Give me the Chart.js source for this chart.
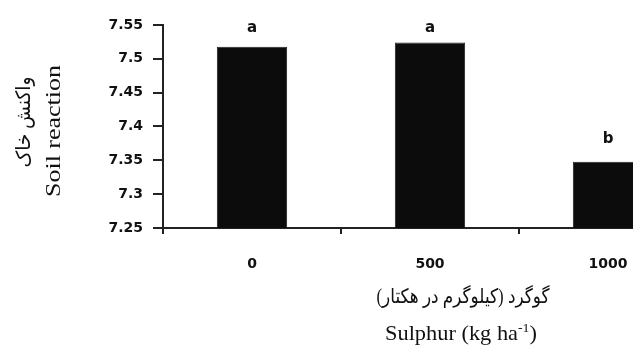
<!DOCTYPE html>
<html>
<head>
<meta charset="utf-8">
<script src="https://cdn.jsdelivr.net/npm/chart.js@4/dist/chart.umd.min.js"></script>
<style>
html,body{margin:0;padding:0;background:#fff;overflow:hidden;}
#wrap{position:relative;width:697px;height:349px;}
</style>
</head>
<body>
<div id="wrap"><canvas id="c" width="697" height="349"></canvas></div>
<script>
const categories = ['0', '500', '1000'];
const soilReaction = [7.518, 7.524, 7.348];
const groupLetters = ['a', 'a', 'b'];
const letterLevels = [7.540, 7.540, 7.376];
const yTicks = [7.25, 7.3, 7.35, 7.4, 7.45, 7.5, 7.55];
const yTitleLines = ['واکنش خاک', 'Soil reaction'];
const xTitleFa = 'گوگرد (کیلوگرم در هکتار)';
const xTitleEn = ['Sulphur (kg ha', '-1', ')'];

const tickFont = {family: 'DejaVu Sans', size: 14, weight: 'bold'};

function fitText(ctx, text, cx, cy, targetW) {
  const w = ctx.measureText(text).width;
  ctx.save();
  ctx.translate(cx, cy);
  ctx.scale(targetW / w, 1);
  ctx.fillText(text, 0, 0);
  ctx.restore();
}

const annot = {
  id: 'annot',
  afterDatasetsDraw(chart) {
    const ctx = chart.ctx;
    const x = chart.scales.x, y = chart.scales.y;
    ctx.save();
    ctx.fillStyle = '#111';
    ctx.font = 'bold 15px "DejaVu Sans"';
    ctx.textAlign = 'center';
    ctx.textBaseline = 'alphabetic';
    groupLetters.forEach((l, i) => {
      ctx.fillText(l, x.getPixelForValue(i), y.getPixelForValue(letterLevels[i]));
    });
    ctx.restore();
  },
  afterDraw(chart) {
    const ctx = chart.ctx;
    ctx.save();
    ctx.fillStyle = '#111';
    ctx.textAlign = 'center';
    ctx.textBaseline = 'middle';
    // y title (rotated)
    ctx.save();
    ctx.translate(25, 122);
    ctx.rotate(-Math.PI / 2);
    ctx.font = '20px "Liberation Serif", "DejaVu Sans"';
    ctx.direction = 'rtl';
    fitText(ctx, yTitleLines[0], 0, 0, 91);
    ctx.restore();
    ctx.save();
    ctx.translate(54, 131);
    ctx.rotate(-Math.PI / 2);
    ctx.font = '22px "Liberation Serif"';
    ctx.direction = 'ltr';
    fitText(ctx, yTitleLines[1], 0, 0, 132);
    ctx.restore();
    // x titles
    ctx.save();
    ctx.font = '20px "Liberation Serif", "DejaVu Sans"';
    ctx.direction = 'rtl';
    fitText(ctx, xTitleFa, 463, 298, 173);
    ctx.restore();
    ctx.save();
    ctx.textBaseline = 'alphabetic';
    ctx.textAlign = 'left';
    const big = '21px "Liberation Serif"', small = '13px "Liberation Serif"';
    ctx.font = big; const a = ctx.measureText(xTitleEn[0]).width;
    ctx.font = small; const b = ctx.measureText(xTitleEn[1]).width;
    ctx.font = big; const c = ctx.measureText(xTitleEn[2]).width;
    const total = a + b + c, k = 152 / total;
    ctx.translate(461 - 76, 340);
    ctx.scale(k, 1);
    let sx = 0;
    ctx.font = big; ctx.fillText(xTitleEn[0], sx, 0); sx += a;
    ctx.font = small; ctx.fillText(xTitleEn[1], sx, -8); sx += b;
    ctx.font = big; ctx.fillText(xTitleEn[2], sx, 0);
    ctx.restore();
    ctx.restore();
  }
};

new Chart(document.getElementById('c'), {
  type: 'bar',
  data: {
    labels: categories,
    datasets: [{
      data: soilReaction,
      backgroundColor: '#0c0c0c',
      borderColor: '#222',
      borderWidth: 1,
      categoryPercentage: 1,
      barPercentage: 0.395
    }]
  },
  options: {
    responsive: false,
    animation: false,
    layout: {padding: {top: 25, right: 0, left: 0, bottom: 0}},
    plugins: {legend: {display: false}, tooltip: {enabled: false}},
    scales: {
      x: {
        grid: {display: true, offset: true, drawOnChartArea: false, tickLength: 6, color: '#222', lineWidth: 2},
        border: {display: true, color: '#222', width: 2},
        ticks: {font: tickFont, color: '#111', padding: 22},
        afterFit(s) { s.height = 121; }
      },
      y: {
        min: 7.25, max: 7.55,
        afterBuildTicks(s) { s.ticks = yTicks.map(v => ({value: v})); },
        grid: {display: true, drawOnChartArea: false, tickLength: 10, color: '#222', lineWidth: 2},
        border: {display: true, color: '#222', width: 2},
        ticks: {font: tickFont, color: '#111', padding: 10,
          callback: (v) => String(Math.round(v * 100) / 100)},
        afterFit(s) { s.width = 163; }
      }
    }
  },
  plugins: [annot]
});
</script>
</body>
</html>
